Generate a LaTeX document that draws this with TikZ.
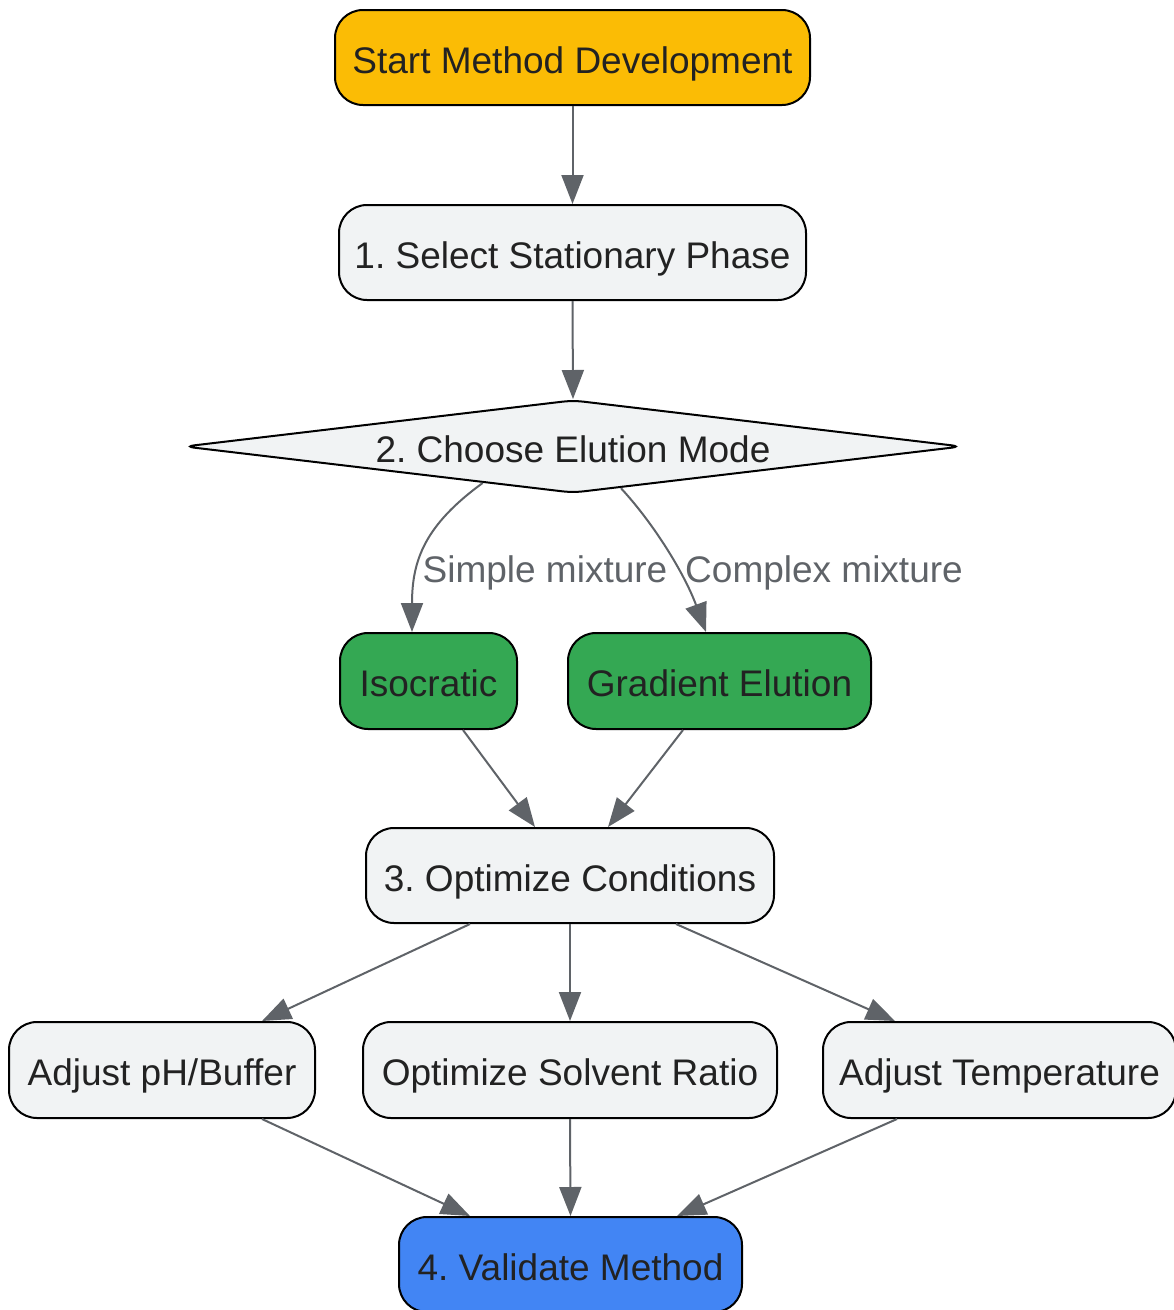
\documentclass[tikz,border=0pt]{standalone}
\usepackage{fontspec}
\setmainfont{Liberation Sans}
\usetikzlibrary{shapes.geometric,arrows.meta}
\definecolor{ylw}{HTML}{FBBC05}
\definecolor{gry}{HTML}{F1F3F4}
\definecolor{grn}{HTML}{34A853}
\definecolor{blu}{HTML}{4285F4}
\definecolor{edg}{HTML}{5F6368}
\definecolor{txt}{HTML}{222222}
\frenchspacing
\begin{document}
\begin{tikzpicture}[x=1pt,y=-1pt,
  base/.style={draw=black, line width=2pt, inner sep=0pt, text=txt,
    text height=31pt, text depth=0pt,
    font=\fontsize{37}{44}\selectfont},
  box/.style={base, rounded corners=28pt, minimum height=95pt},
  dec/.style={base, diamond, aspect=8.44, rounded corners=10pt},
  conn/.style={draw=edg, line width=2pt, -{Triangle[length=29pt,width=22pt]}},
  lbl/.style={inner sep=0pt, text=edg, text height=31pt, text depth=0pt,
    font=\fontsize{37}{44}\selectfont}]
\useasboundingbox (0,0) rectangle (1174,1310);

\node[box, fill=ylw, minimum width=475pt] (start) at (572.5,57.5) {Start Method Development};
\node[box, fill=gry, minimum width=467pt] (sel) at (572.5,252.5) {1. Select Stationary Phase};
\node[dec, fill=gry, minimum width=778pt, minimum height=93pt] (dia) at (573,446.5) {2. Choose Elution Mode};
\node[box, fill=grn, minimum width=177pt, minimum height=96pt] (iso) at (428.5,681) {Isocratic};
\node[box, fill=grn, minimum width=303pt, minimum height=96pt] (grad) at (719.5,681) {Gradient Elution};
\node[box, fill=gry, minimum width=408pt] (opt) at (570,875.5) {3. Optimize Conditions};
\node[box, fill=gry, minimum width=306pt, minimum height=96pt] (ph) at (162,1070) {Adjust pH/Buffer};
\node[box, fill=gry, minimum width=414pt, minimum height=96pt] (solv) at (570,1070) {Optimize Solvent Ratio};
\node[box, fill=gry, minimum width=353pt, minimum height=96pt] (temp) at (999.5,1070) {Adjust Temperature};
\node[box, fill=blu, minimum width=343pt] (val) at (570.5,1264.5) {4. Validate Method};

\draw[conn] (start.south) -- (sel.north);
\draw[conn] (sel.south) -- (dia.north);
\draw[conn] (dia.202) .. controls (425,525) and (412,560) .. ([xshift=-16.5pt]iso.north);
\draw[conn] (dia.319) .. controls (655,525) and (685,575) .. ([xshift=-13.5pt]grad.north);
\node[lbl] (l1) at (545,567) {Simple mixture};
\node[lbl] (l2) at (824,567) {Complex mixture};

\draw[conn] ([xshift=34.5pt]iso.south) -- ([xshift=-35pt]opt.north);
\draw[conn] ([xshift=-36.5pt]grad.south) -- ([xshift=38pt]opt.north);
\draw[conn] ([xshift=-100pt]opt.south) -- ([xshift=100pt]ph.north);
\draw[conn] (opt.south) -- (solv.north);
\draw[conn] ([xshift=106pt]opt.south) -- ([xshift=-104.5pt]temp.north);
\draw[conn] ([xshift=100pt]ph.south) -- ([xshift=-100.5pt]val.north);
\draw[conn] (solv.south) -- (val.north);
\draw[conn] ([xshift=-102.5pt]temp.south) -- ([xshift=106.5pt]val.north);
\end{tikzpicture}
\end{document}
